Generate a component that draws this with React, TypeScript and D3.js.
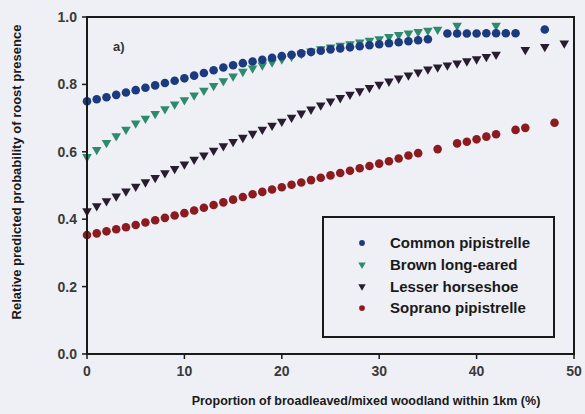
import React from 'react';
import * as d3 from 'd3';

// Common pipistrelle
const commonX = [0,1,2,3,4,5,6,7,8,9,10,11,12,13,14,15,16,17,18,19,20,21,22,23,24,25,26,27,28,29,30,31,32,33,34,35,37,38,39,40,41,42,43,44,47];
const commonY = [0.750,0.756,0.762,0.769,0.776,0.783,0.790,0.797,0.804,0.811,0.818,0.826,0.834,0.842,0.850,0.857,0.863,0.868,0.873,0.879,0.884,0.888,0.892,0.896,0.900,0.904,0.907,0.910,0.913,0.916,0.919,0.922,0.925,0.928,0.931,0.934,0.951,0.951,0.951,0.951,0.952,0.952,0.952,0.952,0.963];
// Brown long-eared
const brownX = [0,1,2,3,4,5,6,7,8,9,10,11,12,13,14,15,16,17,18,19,20,21,22,23,24,25,26,27,28,29,30,31,32,33,34,35,36,38,42];
const brownY = [0.585,0.606,0.627,0.647,0.666,0.685,0.699,0.713,0.727,0.741,0.754,0.768,0.782,0.796,0.810,0.824,0.838,0.848,0.857,0.866,0.875,0.883,0.891,0.898,0.905,0.910,0.915,0.920,0.925,0.930,0.935,0.941,0.947,0.952,0.956,0.960,0.963,0.975,0.975];
// Lesser horseshoe
const lesserX = [0,1,2,3,4,5,6,7,8,9,10,11,12,13,14,15,16,17,18,19,20,21,22,23,24,25,26,27,28,29,30,31,32,33,34,35,36,37,38,39,40,41,42,45,47,49];
const lesserY = [0.424,0.439,0.454,0.468,0.483,0.497,0.510,0.523,0.537,0.550,0.563,0.577,0.590,0.604,0.617,0.630,0.642,0.654,0.666,0.678,0.690,0.702,0.714,0.726,0.738,0.750,0.760,0.770,0.780,0.790,0.800,0.809,0.818,0.827,0.836,0.845,0.851,0.857,0.863,0.869,0.875,0.882,0.889,0.903,0.912,0.922];
// Soprano pipistrelle
const sopranoX = [0,1,2,3,4,5,6,7,8,9,10,11,12,13,14,15,16,17,18,19,20,21,22,23,24,25,26,27,28,29,30,31,32,33,34,36,38,39,40,41,42,44,45,48];
const sopranoY = [0.353,0.358,0.364,0.370,0.376,0.383,0.390,0.397,0.404,0.411,0.418,0.426,0.434,0.442,0.450,0.458,0.466,0.474,0.481,0.488,0.495,0.502,0.509,0.516,0.523,0.530,0.537,0.544,0.551,0.558,0.565,0.572,0.580,0.589,0.596,0.608,0.625,0.630,0.637,0.645,0.652,0.665,0.671,0.686];

const xTicks = [0, 10, 20, 30, 40, 50];
const yTicks = [0, 0.2, 0.4, 0.6, 0.8, 1.0];
const seriesNames = ['Common pipistrelle', 'Brown long-eared', 'Lesser horseshoe', 'Soprano pipistrelle'];

const W = 585, H = 414;
const L = 87, R = 574, T = 17, B = 354;

export default function App() {
  const x = d3.scaleLinear().domain([0, 50]).range([L, R]);
  const y = d3.scaleLinear().domain([0, 1]).range([B, T]);

  const circle = d3.symbol().type(d3.symbolCircle).size(58)()!;
  const tri = d3.symbol().type(d3.symbolTriangle).size(40)()!;
  const circleSm = d3.symbol().type(d3.symbolCircle).size(26)()!;
  const triSm = d3.symbol().type(d3.symbolTriangle).size(24)()!;

  const series = [
    { name: seriesNames[3], xs: sopranoX, ys: sopranoY, color: '#8c1b1f', shape: 'c' },
    { name: seriesNames[2], xs: lesserX, ys: lesserY, color: '#2a1c30', shape: 't' },
    { name: seriesNames[1], xs: brownX, ys: brownY, color: '#2f8a6c', shape: 't' },
    { name: seriesNames[0], xs: commonX, ys: commonY, color: '#1c3a7e', shape: 'c' },
  ];
  const legend = [
    { name: seriesNames[0], color: '#1c3a7e', shape: 'c' },
    { name: seriesNames[1], color: '#2f8a6c', shape: 't' },
    { name: seriesNames[2], color: '#2a1c30', shape: 't' },
    { name: seriesNames[3], color: '#8c1b1f', shape: 'c' },
  ];

  const font = 'Liberation Sans, Arial, sans-serif';

  return (
    <svg width={W} height={H} style={{ position: 'absolute', left: 0, top: 0 }} fontFamily={font}>
      <rect x={0} y={0} width={W} height={H} fill="#eff0f6" />
      {series.map((s) => (
        <g key={s.name} fill={s.color}>
          {s.xs.map((xv, i) => (
            <path
              key={i}
              d={s.shape === 'c' ? circle : tri}
              transform={`translate(${x(xv)},${y(s.ys[i])})${s.shape === 't' ? ' rotate(180)' : ''}`}
            />
          ))}
        </g>
      ))}
      {/* frame */}
      <rect x={L} y={T} width={R - L} height={B - T} fill="none" stroke="#1a1a1a" strokeWidth={2} />
      {/* y ticks */}
      {yTicks.map((t) => (
        <g key={t}>
          <line x1={L - 5} x2={L} y1={y(t)} y2={y(t)} stroke="#1a1a1a" strokeWidth={1.5} />
          <text x={L - 10} y={y(t)} dy="0.35em" textAnchor="end" fontSize={14} fontWeight="bold" fill="#3a3a3a">
            {d3.format('.1f')(t)}
          </text>
        </g>
      ))}
      {/* x ticks */}
      {xTicks.map((t) => (
        <g key={t}>
          <line x1={x(t)} x2={x(t)} y1={B} y2={B + 5} stroke="#1a1a1a" strokeWidth={1.5} />
          <text x={x(t)} y={B + 22} textAnchor="middle" fontSize={14} fontWeight="bold" fill="#3a3a3a">
            {t}
          </text>
        </g>
      ))}
      <text x={366} y={405} textAnchor="middle" fontSize={12.5} fontWeight="bold" fill="#1a1a1a">
        Proportion of broadleaved/mixed woodland within 1km (%)
      </text>
      <text transform={`translate(21,172) rotate(-90)`} textAnchor="middle" fontSize={13} fontWeight="bold" fill="#1a1a1a">
        Relative predicted probability of roost presence
      </text>
      <text x={113} y={51} fontSize={13} fontWeight="bold" fill="#333">a)</text>
      {/* legend */}
      <rect x={323} y={217} width={231} height={120} fill="#eff0f6" stroke="#1a1a1a" strokeWidth={2} />
      {legend.map((l, i) => (
        <g key={l.name} transform={`translate(0,${243 + i * 21.7})`}>
          <path
            d={l.shape === 'c' ? circleSm : triSm}
            fill={l.color}
            transform={`translate(362,0)${l.shape === 't' ? ' rotate(180)' : ''}`}
          />
          <text x={390} y={0} dy="0.35em" fontSize={15} fontWeight="bold" fill="#1a1a1a">{l.name}</text>
        </g>
      ))}
    </svg>
  );
}
